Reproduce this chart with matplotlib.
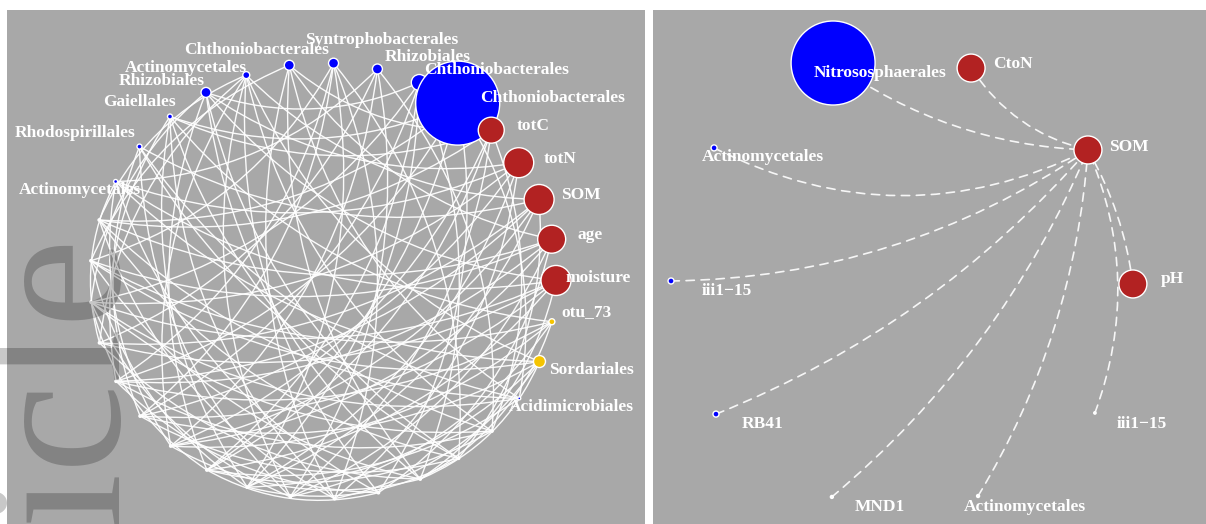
import numpy as np
import matplotlib.pyplot as plt
from matplotlib.patches import FancyArrowPatch

# ---- left network (circle layout, 33 vertices, clockwise from top) ----
left_labels = ['Syntrophobacterales', 'Rhizobiales', 'Chthoniobacterales',
               'Chthoniobacterales', 'totC', 'totN', 'SOM', 'age', 'moisture',
               'otu_73', 'Sordariales', 'Acidimicrobiales'] + [''] * 15 + \
              ['Actinomycetales', 'Rhodospirillales', 'Gaiellales',
               'Rhizobiales', 'Actinomycetales', 'Chthoniobacterales']
left_group = ['b', 'b', 'b', 'b', 'r', 'r', 'r', 'r', 'r', 'y', 'y', 'b'] + \
             ['w'] * 15 + ['b', 'b', 'b', 'b', 'b', 'b']
left_vsize = [5, 5, 8, 42, 13, 15, 15, 14, 15, 3, 6, 1.5] + [1.2] * 15 + \
             [2, 2.5, 2.5, 5, 3.5, 5]
left_edges = [
    (0, 13), (0, 16), (0, 18), (0, 21), (0, 25), (0, 22),
    (1, 12), (1, 17), (1, 20), (1, 27), (1, 23),
    (2, 14), (2, 18), (2, 19), (2, 24), (2, 30), (2, 21),
    (3, 11), (3, 15), (3, 19), (3, 22), (3, 26), (3, 29),
    (4, 12), (4, 19), (4, 20), (4, 26), (4, 29), (4, 32), (4, 17),
    (5, 16), (5, 18), (5, 21), (5, 27), (5, 30), (5, 24),
    (6, 13), (6, 20), (6, 22), (6, 23), (6, 28), (6, 31), (6, 18),
    (7, 15), (7, 17), (7, 22), (7, 25), (7, 26), (7, 32), (7, 20),
    (8, 14), (8, 19), (8, 23), (8, 24), (8, 27), (8, 30), (8, 21),
    (9, 20), (9, 22), (9, 25), (9, 29), (9, 17), (9, 14),
    (10, 18), (10, 21), (10, 25), (10, 27), (10, 31), (10, 16), (10, 14),
    (11, 19), (11, 24), (11, 26), (11, 28), (11, 32),
    (12, 22), (12, 24), (12, 28), (12, 31), (12, 19),
    (13, 21), (13, 26), (13, 29), (13, 30), (13, 18),
    (14, 23), (14, 25), (14, 30), (14, 32), (14, 20),
    (15, 22), (15, 27), (15, 31), (15, 19),
    (16, 26), (16, 29), (16, 32),
    (17, 24), (17, 28), (17, 31),
    (18, 25), (18, 29),
    (19, 24), (19, 30),
    (20, 27), (20, 31),
    (21, 28), (22, 29), (23, 31), (23, 27), (24, 30), (25, 32), (26, 31),
]

# ---- right network (SOM sub-network) ----
right_labels = ['Nitrososphaerales', 'CtoN', 'SOM', 'Actinomycetales', 'iii1\u221215',
                'pH', 'RB41', 'iii1\u221215', 'MND1', 'Actinomycetales']
right_group = ['b', 'r', 'r', 'b', 'b', 'r', 'b', 'w', 'w', 'w']
right_vsize = [42, 14, 14, 3, 3, 14, 3, 1.2, 1.5, 1.5]
right_x = [-0.401, 0.173, 0.659, -0.896, -1.075, 0.846, -0.888, 0.688, -0.406, 0.202]
right_y = [0.889, 0.867, 0.510, 0.519, -0.061, -0.074, -0.641, -0.636, -1.002, -0.998]
right_edges = [(0, 2), (1, 2), (3, 2), (4, 2), (6, 2), (8, 2), (9, 2), (7, 2), (5, 2)]
right_curve = [0.15, 0.2, 0.25, 0.15, 0.12, 0.12, 0.12, 0.2, 0.1]

colors = {'b': '#0000FF', 'r': '#B22222', 'y': '#F5C400', 'w': '#FFFFFF'}
panel_bg = '#A8A8A8'

# label placement (pixel offsets from the vertex)
left_lab_off = {0: (48, -23), 1: (50, -12), 2: (77, -12), 3: (95, -5), 4: (42, -4),
                5: (41, -4), 6: (42, -4), 7: (38, -4), 8: (42, -2), 9: (35, -10),
                10: (52, 8), 11: (52, 9), 27: (-36, 9), 28: (-64, -14),
                29: (-31, -15), 30: (-44, -11), 31: (-60, -7), 32: (-33, -15)}
right_lab_off = [(47, 10), (42, -4), (41, -3), (49, 9), (56, 10), (39, -5),
                 (47, 10), (47, 11), (48, 10), (47, 11)]

W, H = 1206, 524
fig = plt.figure(figsize=(W / 100, H / 100), dpi=100)
fig.patch.set_facecolor('white')
lab_font = dict(family='Liberation Serif', weight='bold', color='white', fontsize=12.5)


def blank(ax):
    ax.set_facecolor(panel_bg)
    ax.set_xticks([])
    ax.set_yticks([])
    for s in ax.spines.values():
        s.set_visible(False)


def draw_vertices(ax, xs, ys, group, vsize):
    s = [(2 * r * 0.72) ** 2 for r in vsize]
    ax.scatter(xs, ys, s=s, c=[colors[g] for g in group], edgecolors='white',
               linewidths=1.0, zorder=3)


def put_labels(ax, xs, ys, labels, offs):
    for i, (dx, dy) in offs:
        if labels[i]:
            ax.annotate(labels[i], (xs[i], ys[i]), xytext=(dx, -dy),
                        textcoords='offset pixels', ha='center', va='center',
                        zorder=4, **lab_font)


# left panel
ax1 = fig.add_axes([7 / W, 0, 638 / W, 514 / H])
blank(ax1)
ax1.set_xlim(-1.356, 1.382)
ax1.set_ylim(-1.115, 1.243)
n = len(left_labels)
ang = np.deg2rad(87.4 - np.arange(n) * 360.0 / n)
lx, ly = np.cos(ang), np.sin(ang)
for i, j in left_edges:
    ax1.add_patch(FancyArrowPatch((lx[i], ly[i]), (lx[j], ly[j]), arrowstyle='-',
                                  connectionstyle='arc3,rad=-0.2', color='white',
                                  lw=1.0, alpha=0.95, shrinkA=0, shrinkB=0, zorder=1))
draw_vertices(ax1, lx, ly, left_group, left_vsize)
put_labels(ax1, lx, ly, left_labels, left_lab_off.items())

# right panel
ax2 = fig.add_axes([653 / W, 0, 553 / W, 514 / H])
blank(ax2)
ax2.set_xlim(-1.15, 1.15)
ax2.set_ylim(-1.12, 1.12)
for (i, j), rad in zip(right_edges, right_curve):
    ax2.add_patch(FancyArrowPatch((right_x[i], right_y[i]), (right_x[j], right_y[j]),
                                  arrowstyle='-', connectionstyle=f'arc3,rad={rad}',
                                  color='white', lw=1.2, alpha=0.9, linestyle=(0, (5, 4)),
                                  shrinkA=0, shrinkB=0, zorder=1))
draw_vertices(ax2, right_x, right_y, right_group, right_vsize)
put_labels(ax2, right_x, right_y, right_labels, enumerate(right_lab_off))

# journal watermark along the left edge
fig.text(118 / W, (H - 236) / H, 'Article', rotation=90, rotation_mode='anchor',
         ha='right', va='baseline', fontsize=145, family='Liberation Serif',
         color='black', alpha=0.22, zorder=10)

fig.savefig('out.png', dpi=100, facecolor='white')
